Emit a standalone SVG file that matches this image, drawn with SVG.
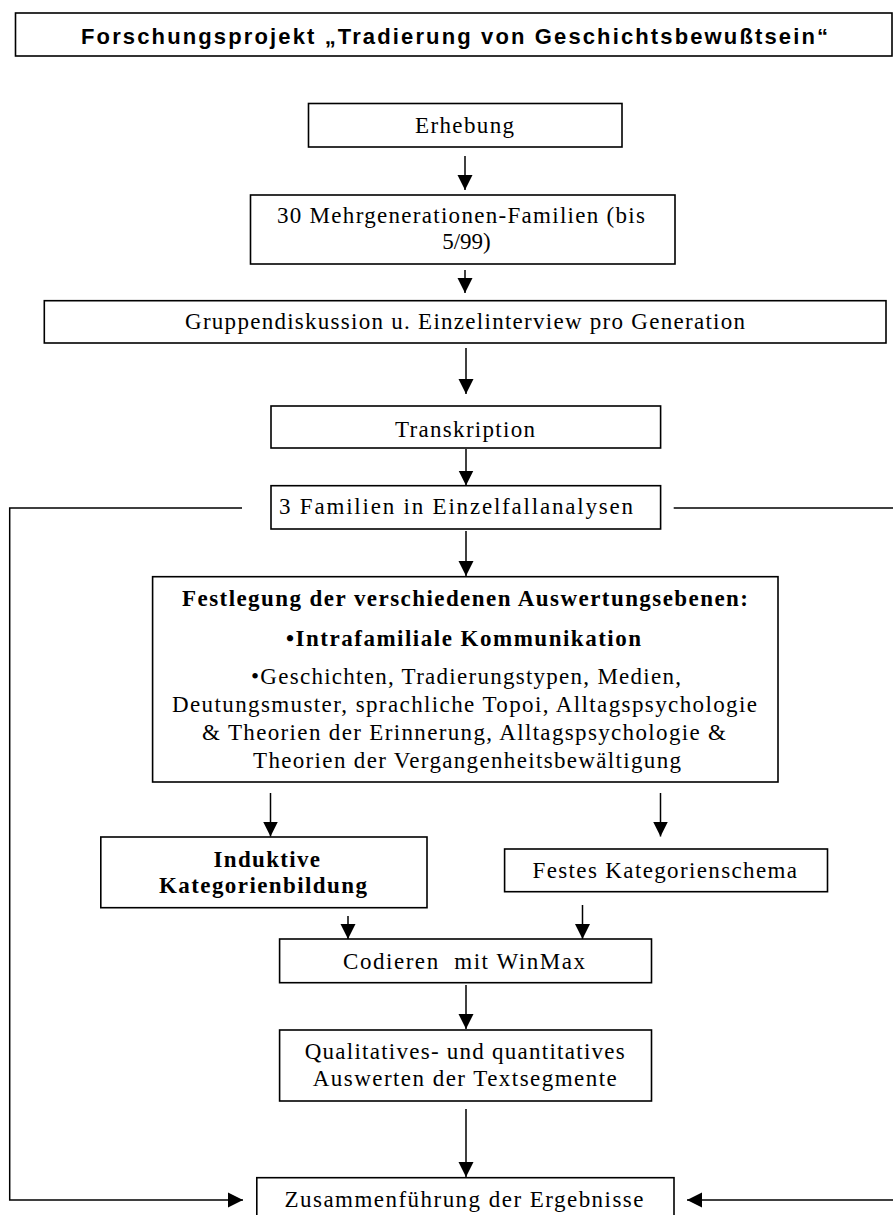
<svg xmlns="http://www.w3.org/2000/svg" width="893" height="1215" viewBox="0 0 893 1215">
<style>
.box{fill:#fff;stroke:#000;stroke-width:1.6}
.t{font-family:"Liberation Serif","Times New Roman",serif;font-size:23px;fill:#000;text-anchor:middle}
.b{font-weight:bold}
.title{font-family:"Liberation Sans",Arial,sans-serif;font-size:22px;font-weight:bold;fill:#000;text-anchor:middle}
.c{fill:none;stroke:#000;stroke-width:1.5}
</style>
<defs>
<marker id="ah" markerUnits="userSpaceOnUse" markerWidth="16" markerHeight="16" viewBox="0 0 16 16" refX="15" refY="8" orient="auto">
<path d="M0,0.5 L15,8 L0,15.5 Z" fill="#000"/>
</marker>
</defs>
<rect width="893" height="1215" fill="#fff"/>
<g id="title">
<rect class="box" x="15.5" y="13" width="876.5" height="43"/>
<text class="title" x="454.5" y="43.5" textLength="747" lengthAdjust="spacing">Forschungsprojekt „Tradierung von Geschichtsbewußtsein“</text>
</g>
<g id="connectors">
<line class="c" x1="465" y1="156" x2="465" y2="190" marker-end="url(#ah)"/>
<line class="c" x1="465" y1="270" x2="465" y2="293" marker-end="url(#ah)"/>
<line class="c" x1="466" y1="348" x2="466" y2="394" marker-end="url(#ah)"/>
<line class="c" x1="466" y1="449" x2="466" y2="485.5" marker-end="url(#ah)"/>
<line class="c" x1="466" y1="531" x2="466" y2="576" marker-end="url(#ah)"/>
<line class="c" x1="270.5" y1="793" x2="270.5" y2="836.5" marker-end="url(#ah)"/>
<line class="c" x1="660.5" y1="793" x2="660.5" y2="836.5" marker-end="url(#ah)"/>
<line class="c" x1="348" y1="916" x2="348" y2="939" marker-end="url(#ah)"/>
<line class="c" x1="582.5" y1="905" x2="582.5" y2="939" marker-end="url(#ah)"/>
<line class="c" x1="466" y1="985" x2="466" y2="1029" marker-end="url(#ah)"/>
<line class="c" x1="466" y1="1109" x2="466" y2="1177" marker-end="url(#ah)"/>
<polyline class="c" points="242,508 9.7,508 9.7,1200 243,1200" marker-end="url(#ah)"/>
<line class="c" x1="673.7" y1="508" x2="893" y2="508"/>
<line class="c" x1="893" y1="1200" x2="687" y2="1200" marker-end="url(#ah)"/>
</g>
<g id="erhebung">
<rect class="box" x="308.5" y="103.5" width="313.5" height="43.5"/>
<text class="t" x="464.5" y="133" textLength="99" lengthAdjust="spacing">Erhebung</text>
</g>
<g id="familien30">
<rect class="box" x="250.5" y="195" width="424.5" height="69"/>
<text class="t" x="461" y="223" textLength="368" lengthAdjust="spacing">30 Mehrgenerationen-Familien (bis</text>
<text class="t" x="466.5" y="249">5/99)</text>
</g>
<g id="gruppendiskussion">
<rect class="box" x="44.3" y="300.7" width="841.7" height="42.3"/>
<text class="t" x="465" y="329" textLength="560" lengthAdjust="spacing">Gruppendiskussion u. Einzelinterview pro Generation</text>
</g>
<g id="transkription">
<rect class="box" x="271" y="406" width="389.6" height="42"/>
<text class="t" x="465" y="436.5" textLength="140" lengthAdjust="spacing">Transkription</text>
</g>
<g id="familien3">
<rect class="box" x="271" y="485.7" width="389.6" height="43.3"/>
<text class="t" x="456" y="514" textLength="354" lengthAdjust="spacing">3 Familien in Einzelfallanalysen</text>
</g>
<g id="festlegung">
<rect class="box" x="152.6" y="576.7" width="625.4" height="205.3"/>
<text class="t b" x="465" y="606" textLength="566" lengthAdjust="spacing">Festlegung der verschiedenen Auswertungsebenen:</text>
<text class="t b" x="463.5" y="646" textLength="355" lengthAdjust="spacing">•Intrafamiliale Kommunikation</text>
<text class="t" x="466" y="684" textLength="430" lengthAdjust="spacing">•Geschichten, Tradierungstypen, Medien,</text>
<text class="t" x="464.5" y="712" textLength="585" lengthAdjust="spacing">Deutungsmuster, sprachliche Topoi, Alltagspsychologie</text>
<text class="t" x="464" y="740" textLength="524" lengthAdjust="spacing">&amp; Theorien der Erinnerung, Alltagspsychologie &amp;</text>
<text class="t" x="467" y="768" textLength="428" lengthAdjust="spacing">Theorien der Vergangenheitsbewältigung</text>
</g>
<g id="induktive">
<rect class="box" x="100.8" y="837" width="326.2" height="70.7"/>
<text class="t b" x="266.75" y="866.5" textLength="106.5" lengthAdjust="spacing">Induktive</text>
<text class="t b" x="263" y="893" textLength="208" lengthAdjust="spacing">Kategorienbildung</text>
</g>
<g id="festes">
<rect class="box" x="504.6" y="849" width="322.9" height="42.7"/>
<text class="t" x="664.75" y="878" textLength="264.5" lengthAdjust="spacing">Festes Kategorienschema</text>
</g>
<g id="codieren">
<rect class="box" x="279.6" y="939" width="371.9" height="43.7"/>
<text class="t" x="464" y="969" textLength="242" lengthAdjust="spacing" xml:space="preserve">Codieren  mit WinMax</text>
</g>
<g id="qualitatives">
<rect class="box" x="279.6" y="1030" width="371.9" height="71"/>
<text class="t" x="464.7" y="1059" textLength="320" lengthAdjust="spacing">Qualitatives- und quantitatives</text>
<text class="t" x="464.7" y="1086" textLength="304" lengthAdjust="spacing">Auswerten der Textsegmente</text>
</g>
<g id="zusammen">
<rect class="box" x="256.8" y="1177.7" width="417.2" height="60"/>
<text class="t" x="464" y="1206.7" textLength="359" lengthAdjust="spacing">Zusammenführung der Ergebnisse</text>
</g>
</svg>
